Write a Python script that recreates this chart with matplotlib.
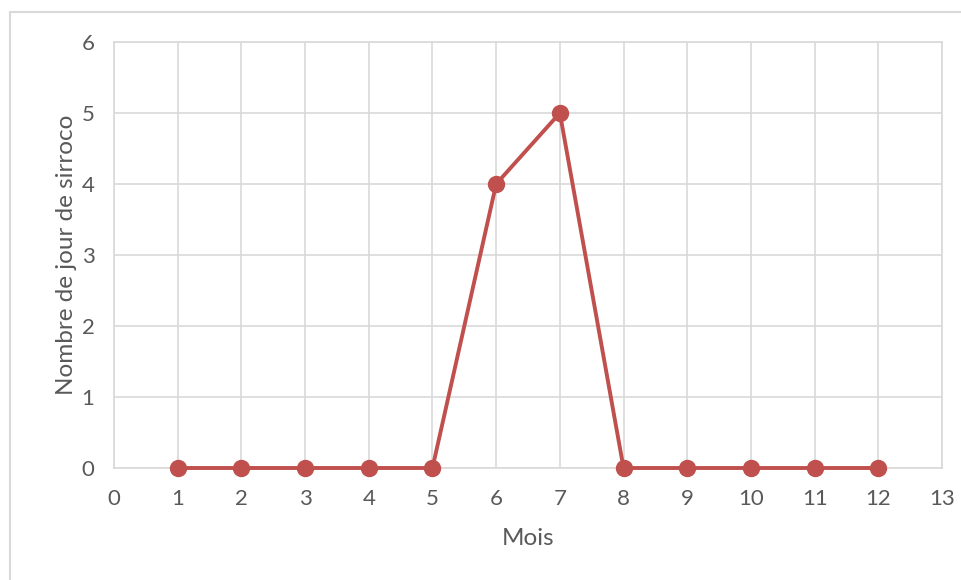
import matplotlib
matplotlib.use("Agg")
import matplotlib.pyplot as plt
from matplotlib.lines import Line2D

plt.rcParams['font.family'] = ['Lato', 'DejaVu Sans']

mois = [1, 2, 3, 4, 5, 6, 7, 8, 9, 10, 11, 12]
jours = [0, 0, 0, 0, 0, 4, 5, 0, 0, 0, 0, 0]

grid_col = '#d9d9d9'
text_col = '#595959'
red = '#c0504d'

fig = plt.figure(figsize=(9.61, 5.8), dpi=100)
ax = fig.add_axes([114 / 961, 1 - 468 / 580, (942 - 114) / 961, (468 - 42) / 580])

ax.plot(mois, jours, color=red, linewidth=2.8, marker='o', markersize=11.5,
        zorder=3, clip_on=False)

ax.set_xlim(0, 13)
ax.set_ylim(0, 6)
ax.set_xticks(range(0, 14))
ax.set_yticks(range(0, 7))
ax.grid(True, color=grid_col, linewidth=1.2)
ax.set_axisbelow(True)
for s in ax.spines.values():
    s.set_color(grid_col)
    s.set_linewidth(1.2)
ax.tick_params(length=0, labelsize=16, colors=text_col)
ax.tick_params(axis='x', pad=15)
ax.tick_params(axis='y', pad=14)
ax.set_xlabel('Mois', fontsize=17.5, color=text_col, labelpad=14)
ax.set_ylabel('Nombre de jour de sirroco', fontsize=17.5, color=text_col, labelpad=3)

# outer chart frame (top and left edges visible)
fig.add_artist(Line2D([10 / 961, 1.0], [1 - 12 / 580, 1 - 12 / 580],
                      transform=fig.transFigure, color='#d9d9d9', linewidth=1.5))
fig.add_artist(Line2D([10 / 961, 10 / 961], [0.0, 1 - 12 / 580],
                      transform=fig.transFigure, color='#d9d9d9', linewidth=1.5))

fig.savefig('out.png', dpi=100)
